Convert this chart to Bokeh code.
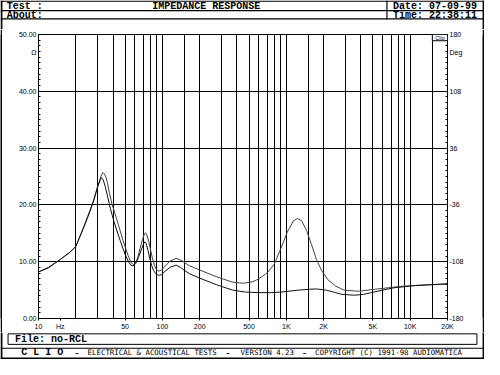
from bokeh.plotting import figure
from bokeh.layouts import column, row
from bokeh.models import FixedTicker, LinearAxis, Range1d, Label, BoxAnnotation
from bokeh.core.properties import value
from bokeh.embed import file_html
from bokeh.resources import INLINE

# ---------------- data ----------------
freq_a = [10, 12, 15, 18, 20, 22, 24, 26, 28, 30, 32, 33, 34, 35, 36, 37.3, 39, 41.5, 44, 48,
          53, 56, 58.5, 61, 63.5, 66, 69, 71, 73, 75, 77.5, 80, 83, 86, 89, 93, 98, 105, 115, 129,
          140, 150, 165, 205, 273, 368, 450, 530, 578, 640, 713, 801, 907, 1018, 1143, 1231, 1330,
          1457, 1598, 1752, 1921, 2172, 2507, 2925, 3800, 5450, 8870, 14190, 20000]
imp_a = [8.2, 9.0, 10.4, 11.7, 12.7, 14.8, 16.8, 18.8, 20.8, 23.2, 25.1, 25.7, 25.5, 24.9, 23.9,
         22.2, 20.3, 18.4, 16.6, 13.8, 11.0, 9.8, 9.5, 9.8, 10.9, 12.3, 13.9, 14.7, 15.1, 14.7,
         13.6, 12.2, 10.7, 9.4, 8.7, 8.35, 8.5, 9.2, 10.1, 10.6, 10.3, 9.9, 9.3, 8.45, 7.35, 6.4,
         6.2, 6.45, 6.8, 7.4, 8.2, 9.6, 12.4, 15.2, 17.2, 17.6, 17.2, 15.5, 13.0, 10.4, 8.5, 6.8,
         5.7, 5.0, 4.8, 5.2, 5.7, 5.95, 6.1]

freq_b = [10, 12, 15, 18, 20, 22, 24, 26, 28, 30, 31.5, 32.3, 33.3, 34.5, 36, 38, 40.5, 43, 46, 50,
          53, 55.5, 58, 61, 64, 67, 70, 72, 74, 76.5, 79, 82, 85, 89, 93, 98, 105, 115, 129, 140,
          150, 165, 200, 273, 368, 469, 596, 750, 905, 1254, 1550, 1750, 2100, 2450, 2800, 3560,
          4200, 4850, 6000, 7350, 9000, 11000, 15000, 20000]
imp_b = [8.2, 8.9, 10.4, 11.7, 12.7, 14.9, 17.0, 19.0, 21.0, 23.2, 24.4, 24.8, 24.4, 23.3, 21.6,
         19.4, 17.2, 15.4, 13.5, 11.3, 10.1, 9.4, 9.25, 9.7, 10.7, 11.9, 13.0, 13.5, 13.2, 12.0,
         10.6, 9.3, 8.4, 7.85, 7.6, 7.7, 8.3, 9.0, 9.4, 9.0, 8.5, 7.9, 7.1, 5.95, 5.0, 4.65, 4.55,
         4.55, 4.65, 5.0, 5.15, 5.2, 5.0, 4.6, 4.25, 4.1, 4.25, 4.55, 5.0, 5.4, 5.6, 5.8, 5.95, 6.1]

grid_freqs = [20, 30, 40, 50, 60, 70, 80, 90, 100, 150, 200, 300, 400, 500, 600, 700, 800, 900,
              1000, 1500, 2000, 3000, 4000, 5000, 6000, 7000, 8000, 9000, 10000, 15000]
x_tick_values = [10, 15, 50, 100, 200, 500, 1000, 2000, 5000, 10000, 20000]
x_tick_labels = ["10", "Hz", "50", "100", "200", "500", "1K", "2K", "5K", "10K", "20K"]
ohm_ticks = [0, 10, 20, 30, 40, 46.9, 50]
ohm_labels = ["0.00", "10.00", "20.00", "30.00", "40.00", "Ω", "50.00"]
deg_ticks = [-180, -108, -36, 36, 108, 157.7, 180]
deg_labels = ["-180", "-108", "-36", "36", "108", "Deg", "180"]

title_text = "IMPEDANCE RESPONSE"
date_text = "Date: 07-09-99"
time_text = "Time: 22:38:11"
file_text = "File: no-RCL"
footer_parts = ["ELECTRICAL & ACOUSTICAL TESTS", "VERSION 4.23",
                "COPYRIGHT (C) 1991-98 AUDIOMATICA"]
footer_dashes = ["-", "-", "-"]

# ---------------- geometry ----------------
W, H = 484, 359
SX, SY = W / 500.0, H / 375.0
BAR = 2                      # side border width (px)
HEAD_H = 29                  # header strip height (px)
MAIN_H = round(332 * SY) - HEAD_H + 14
FOOT_H = H - HEAD_H - MAIN_H
MAIN_W = W - 2 * BAR
FL = round(39 * SX) - BAR
FR = round(461.7 * SX) - BAR
FT = round(35 * SY) - HEAD_H
FB = round(332 * SY) - HEAD_H
FW, FH = FR - FL, FB - FT

HEAD_FONT = value("Liberation Mono")
FOOT_FONT = value("DejaVu Sans Mono")
TICK_FONT = "Liberation Sans"
TICK_SIZE = "7px"

# ---------------- main plot ----------------
p = figure(x_axis_type="log", x_range=Range1d(10, 20000), y_range=Range1d(0, 50),
           frame_width=FW, frame_height=FH,
           min_border_left=FL, min_border_right=MAIN_W - FR,
           min_border_top=FT, min_border_bottom=MAIN_H - FB,
           output_backend="svg", toolbar_location=None)
p.background_fill_color = "white"
p.border_fill_color = "white"
p.outline_line_color = "black"
p.outline_line_width = 1

xa = p.xaxis[0]
xa.ticker = FixedTicker(ticks=x_tick_values)
xa.major_label_overrides = {v: s for v, s in zip(x_tick_values, x_tick_labels)}
xa.minor_tick_line_color = None
xa.major_tick_in = 0
xa.major_tick_out = 2
xa.major_label_standoff = 2
xa.axis_line_color = "black"
xa.major_tick_line_color = "black"
xa.major_label_text_font = TICK_FONT
xa.major_label_text_font_size = TICK_SIZE
xa.major_label_text_color = "black"

ya = p.yaxis[0]
ya.ticker = FixedTicker(ticks=ohm_ticks, minor_ticks=list(range(0, 51)))
ya.major_label_overrides = {v: s for v, s in zip(ohm_ticks, ohm_labels)}
ya.major_tick_in = 0
ya.major_tick_out = 0
ya.minor_tick_in = 2
ya.minor_tick_out = 0
ya.major_label_standoff = 2
ya.axis_line_color = "black"
ya.major_label_text_font = TICK_FONT
ya.major_label_text_font_size = TICK_SIZE
ya.major_label_text_color = "black"

p.extra_y_ranges = {"deg": Range1d(-180, 180)}
ra = LinearAxis(y_range_name="deg",
                ticker=FixedTicker(ticks=deg_ticks, minor_ticks=[-180 + 7.2 * i for i in range(51)]))
ra.major_label_overrides = {v: s for v, s in zip(deg_ticks, deg_labels)}
ra.major_tick_in = 0
ra.major_tick_out = 0
ra.minor_tick_in = 2
ra.minor_tick_out = 0
ra.major_label_standoff = 2
ra.axis_line_color = "black"
ra.major_label_text_font = TICK_FONT
ra.major_label_text_font_size = TICK_SIZE
ra.major_label_text_color = "black"
p.add_layout(ra, "right")

p.xgrid.ticker = FixedTicker(ticks=grid_freqs)
p.xgrid.grid_line_color = "black"
p.xgrid.grid_line_alpha = 1.0
p.ygrid.ticker = FixedTicker(ticks=[10, 20, 30, 40])
p.ygrid.grid_line_color = "black"
p.ygrid.grid_line_alpha = 1.0

p.line(freq_a, imp_a, line_color="#444444", line_width=1)
p.line(freq_b, imp_b, line_color="#111111", line_width=1)

# "Clio" badge in the top-right corner of the frame
p.add_layout(BoxAnnotation(left=FW - 15.7 * SX, right=FW, top=FH, bottom=FH - 6.5 * SY,
                           left_units="screen", right_units="screen", top_units="screen",
                           bottom_units="screen", fill_color="white", fill_alpha=1,
                           line_color="black", line_alpha=1, line_width=1))
p.add_layout(Label(x=FW - 7.8 * SX, y=FH - 3.3 * SY, x_units="screen", y_units="screen",
                   text="Clio", text_font=TICK_FONT, text_font_size="5.5px",
                   text_align="center", text_baseline="middle", text_color="black"))


# ---------------- strips (coordinates in original pixels) ----------------
def strip(h, y_top):
    f = figure(width=W, height=h, x_range=Range1d(0, 500), y_range=Range1d(y_top + h / SY, y_top),
               min_border=0, x_axis_location=None, y_axis_location=None,
               output_backend="svg", toolbar_location=None,
               background_fill_color="white", border_fill_color="white", outline_line_color=None)
    f.grid.visible = False
    return f


def bar_fig(h):
    f = figure(width=BAR, height=h, min_border=0, x_axis_location=None, y_axis_location=None,
               output_backend="svg", toolbar_location=None,
               background_fill_color="black", border_fill_color="black", outline_line_color=None)
    f.grid.visible = False
    f.scatter([0], [0], size=0, alpha=0)
    return f


head_bottom = HEAD_H / SY + 1
head = strip(HEAD_H, 0)
head.quad(left=[0, 498, 0, 0, 0, 398.6], right=[2, 500, 500, 500, 500, 399.8],
          top=[0, 0, 0, 10, 18.6, 0], bottom=[head_bottom, head_bottom, 1.2, 11.2, 19.8, 19.8],
          fill_color="black", line_color=None)
head.text(x=[6.5, 6.5, 405.5, 405.5], y=[6.2, 15.2, 6.2, 15.2],
          text=["Test :", "About:", date_text, time_text],
          text_font=HEAD_FONT, text_font_size=value("10px"), text_font_style=value("bold"),
          text_align=value("left"), text_baseline=value("middle"), text_color="black")
head.text(x=[212.5], y=[6.2], text=[title_text],
          text_font=HEAD_FONT, text_font_size=value("10px"), text_font_style=value("bold"),
          text_align=value("center"), text_baseline=value("middle"), text_color="black")

foot_top = 375 - FOOT_H / SY
foot = strip(FOOT_H, foot_top)
foot.quad(left=[0, 498, 0, 0], right=[2, 500, 500, 500],
          top=[foot_top - 1, foot_top - 1, 362.6, 373], bottom=[375, 375, 363.8, 375],
          fill_color="black", line_color=None)
foot.quad(left=[7.8], right=[492.2], top=[348.2], bottom=[359.2],
          fill_color=None, line_color="black", line_width=1)
foot.text(x=[15, 21.5], y=[353.6, 368], text=[file_text, "C L I O"],
          text_font=HEAD_FONT, text_font_size=value("10px"), text_font_style=value("bold"),
          text_align=value("left"), text_baseline=value("middle"), text_color="black")
foot.text(x=[79, 235, 314], y=[368] * 3, text=footer_dashes,
          text_font=HEAD_FONT, text_font_size=value("10px"),
          text_align=value("center"), text_baseline=value("middle"), text_color="black")
foot.text(x=[90, 248, 325], y=[368] * 3, text=footer_parts,
          text_font=FOOT_FONT, text_font_size=value("7.4px"),
          text_align=value("left"), text_baseline=value("middle"), text_color="black")

layout = column(head, row(bar_fig(MAIN_H), p, bar_fig(MAIN_H)), foot)

open("out.html", "w").write(file_html(layout, INLINE))
